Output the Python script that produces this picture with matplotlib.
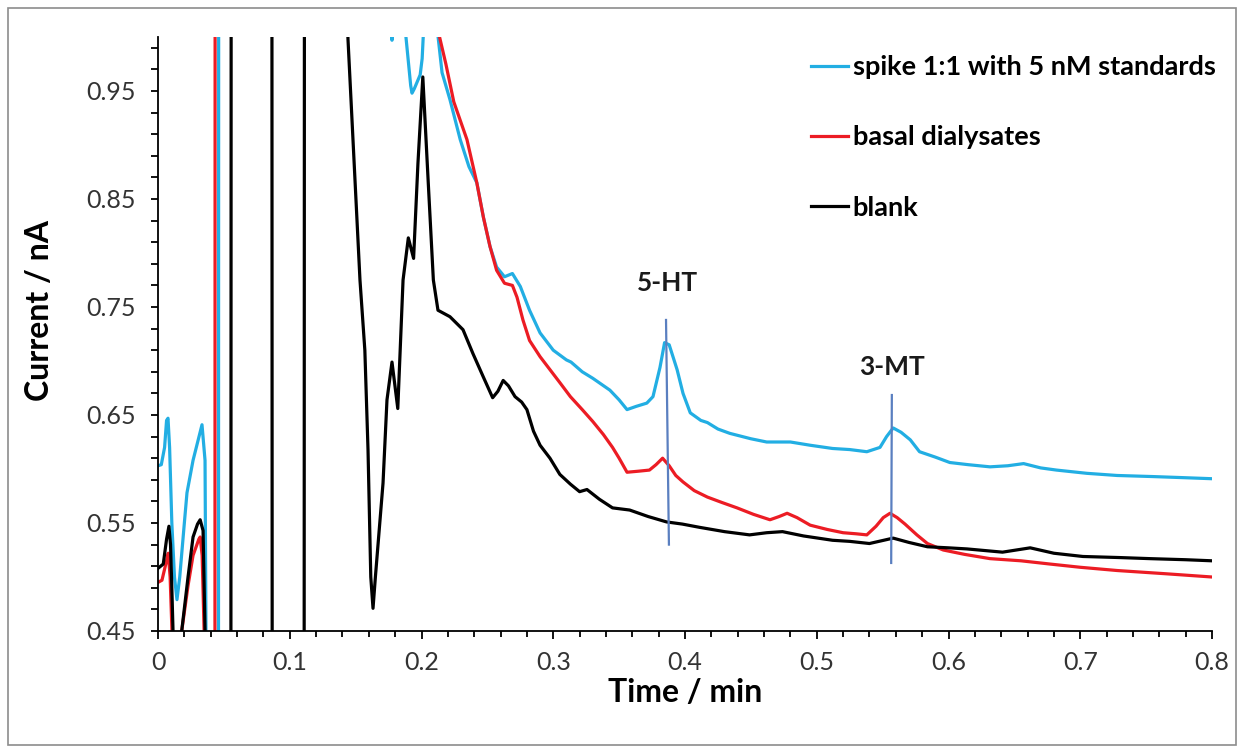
import numpy as np
import matplotlib
matplotlib.use("Agg")
import matplotlib.pyplot as plt
from matplotlib.ticker import FixedLocator, FuncFormatter
from matplotlib.patches import Rectangle

plt.rcParams['font.family'] = ['Lato', 'DejaVu Sans']

# values (time in min, current in nA);
# points beyond the y range stand for the off-scale excursions
spike_t = [0.0, 0.0025, 0.005, 0.0065, 0.0076, 0.0088, 0.0105, 0.0125, 0.0144, 0.0165,
           0.020, 0.022, 0.0266, 0.0334, 0.0357, 0.0364, 0.040, 0.0459, 0.0461, 0.12,
           0.177, 0.1776, 0.1782, 0.1882, 0.1918, 0.1928, 0.1945, 0.199, 0.2005, 0.2013,
           0.205, 0.2126, 0.2156, 0.2216, 0.2294, 0.236, 0.242, 0.247, 0.252, 0.257,
           0.263, 0.269, 0.275, 0.282, 0.290, 0.300, 0.310, 0.3135, 0.322, 0.330,
           0.343, 0.350, 0.356, 0.363, 0.371, 0.3757, 0.381, 0.3845, 0.388, 0.394,
           0.3985, 0.404, 0.412, 0.417, 0.425, 0.434, 0.450, 0.462, 0.480, 0.495,
           0.512, 0.525, 0.538, 0.548, 0.553, 0.558, 0.564, 0.571, 0.578, 0.590,
           0.601, 0.615, 0.6315, 0.645, 0.657, 0.670, 0.682, 0.705, 0.728, 0.755,
           0.778, 0.800]
spike_i = [0.603, 0.604, 0.620, 0.645, 0.647, 0.620, 0.550, 0.500, 0.479, 0.500,
           0.550, 0.578, 0.608, 0.641, 0.608, 0.450, 0.30, 0.35, 1.30, 1.50,
           1.05, 0.997, 1.05, 1.0, 0.955, 0.948, 0.952, 0.965, 0.980, 1.0,
           1.10, 1.0, 0.967, 0.942, 0.905, 0.880, 0.865, 0.833, 0.806, 0.787,
           0.778, 0.781, 0.769, 0.747, 0.726, 0.710, 0.701, 0.699, 0.690, 0.684,
           0.673, 0.664, 0.655, 0.658, 0.661, 0.667, 0.694, 0.717, 0.715, 0.692,
           0.670, 0.652, 0.645, 0.643, 0.637, 0.633, 0.628, 0.625, 0.625, 0.622,
           0.619, 0.618, 0.616, 0.620, 0.630, 0.638, 0.634, 0.627, 0.616, 0.611,
           0.606, 0.604, 0.602, 0.603, 0.605, 0.601, 0.599, 0.596, 0.594, 0.593,
           0.592, 0.591]

basal_t = [0.0, 0.003, 0.0065, 0.0078, 0.0092, 0.0106, 0.013, 0.016, 0.018, 0.0228,
           0.0266, 0.031, 0.032, 0.0335, 0.035, 0.038, 0.0432, 0.0434, 0.12, 0.2137,
           0.2185, 0.2245, 0.2345, 0.242, 0.247, 0.252, 0.257, 0.263, 0.269, 0.2725,
           0.277, 0.282, 0.290, 0.2975, 0.305, 0.313, 0.322, 0.330, 0.338, 0.345,
           0.350, 0.356, 0.365, 0.373, 0.378, 0.383, 0.388, 0.393, 0.3985, 0.407,
           0.417, 0.428, 0.4395, 0.452, 0.4645, 0.4715, 0.4775, 0.485, 0.495, 0.508,
           0.520, 0.530, 0.538, 0.545, 0.5505, 0.5556, 0.561, 0.567, 0.576, 0.584,
           0.596, 0.612, 0.6315, 0.655, 0.677, 0.700, 0.728, 0.765, 0.800]
basal_i = [0.495, 0.497, 0.515, 0.522, 0.500, 0.450, 0.40, 0.40, 0.450, 0.492,
           0.520, 0.535, 0.537, 0.520, 0.450, 0.30, 0.30, 1.30, 1.50, 1.0,
           0.975, 0.940, 0.905, 0.865, 0.833, 0.806, 0.784, 0.772, 0.770, 0.759,
           0.738, 0.719, 0.704, 0.692, 0.680, 0.667, 0.655, 0.644, 0.632, 0.620,
           0.610, 0.597, 0.598, 0.599, 0.604, 0.610, 0.603, 0.594, 0.588, 0.580,
           0.574, 0.569, 0.564, 0.558, 0.553, 0.556, 0.559, 0.555, 0.548, 0.544,
           0.541, 0.540, 0.539, 0.547, 0.555, 0.559, 0.555, 0.549, 0.539, 0.531,
           0.525, 0.521, 0.517, 0.515, 0.512, 0.509, 0.506, 0.503, 0.500]

blank_t = [0.0, 0.004, 0.0065, 0.0083, 0.0095, 0.0105, 0.0114, 0.0125, 0.016, 0.018,
           0.0228, 0.0266, 0.030, 0.032, 0.0342, 0.0357, 0.037, 0.050, 0.0553, 0.0556,
           0.070, 0.0864, 0.0867, 0.100, 0.1109, 0.1112, 0.130, 0.1442, 0.1533, 0.157,
           0.1594, 0.1615, 0.1632, 0.1650, 0.1708, 0.1738, 0.1776, 0.182, 0.186, 0.190,
           0.194, 0.1973, 0.201, 0.205, 0.209, 0.2125, 0.2216, 0.2315, 0.239, 0.247,
           0.254, 0.258, 0.262, 0.266, 0.271, 0.276, 0.280, 0.285, 0.290, 0.2975,
           0.305, 0.313, 0.320, 0.3256, 0.335, 0.345, 0.358, 0.372, 0.386, 0.398,
           0.411, 0.430, 0.449, 0.462, 0.474, 0.490, 0.512, 0.525, 0.540, 0.558,
           0.570, 0.584, 0.600, 0.614, 0.641, 0.662, 0.680, 0.702, 0.730, 0.753,
           0.780, 0.800]
blank_i = [0.508, 0.512, 0.535, 0.547, 0.530, 0.490, 0.450, 0.42, 0.40, 0.450,
           0.500, 0.537, 0.549, 0.553, 0.543, 0.450, 0.40, 0.20, 0.30, 1.30,
           1.50, 1.30, 0.30, 0.20, 0.30, 1.30, 1.60, 0.998, 0.775, 0.710,
           0.618, 0.500, 0.471, 0.500, 0.587, 0.664, 0.699, 0.656, 0.775, 0.814,
           0.795, 0.883, 0.963, 0.868, 0.775, 0.747, 0.741, 0.729, 0.707, 0.685,
           0.666, 0.672, 0.682, 0.677, 0.667, 0.662, 0.655, 0.635, 0.622, 0.610,
           0.595, 0.586, 0.579, 0.581, 0.572, 0.564, 0.562, 0.556, 0.551, 0.549,
           0.546, 0.542, 0.539, 0.541, 0.542, 0.538, 0.534, 0.533, 0.531, 0.536,
           0.532, 0.528, 0.527, 0.526, 0.523, 0.527, 0.522, 0.519, 0.518, 0.517,
           0.516, 0.515]

# peak markers
peak_names = ['5-HT', '3-MT']
peak_line_x = [(0.3856, 0.3878), (0.557, 0.5565)]
peak_line_y = [(0.738, 0.530), (0.6685, 0.513)]
peak_label_xy = [(0.387, 0.772), (0.557, 0.694)]

series_names = ['spike 1:1 with 5 nM standards', 'basal dialysates', 'blank']
series_colors = ['#22aee3', '#ec1c24', '#000000']

x_ticks = [0, 0.1, 0.2, 0.3, 0.4, 0.5, 0.6, 0.7, 0.8]
y_ticks = [0.45, 0.55, 0.65, 0.75, 0.85, 0.95]

fig = plt.figure(figsize=(12.44, 7.53), dpi=100)
fig.patches.append(Rectangle((8 / 1244, 8 / 753), 1228 / 1244, 737 / 753,
                             transform=fig.transFigure, fill=False,
                             edgecolor='#8c8c8c', linewidth=1.2))
ax = fig.add_axes([158 / 1244, 122 / 753, 1054 / 1244, 594 / 753])

for t, i, name, col in zip([spike_t, basal_t, blank_t], [spike_i, basal_i, blank_i],
                           series_names, series_colors):
    ax.plot(t, i, color=col, lw=2.3, label=name, solid_joinstyle='round')

for name, lx, ly, (tx, ty) in zip(peak_names, peak_line_x, peak_line_y, peak_label_xy):
    ax.plot(lx, ly, color='#5a7fc0', lw=1.6)
    ax.text(tx, ty, name, ha='center', va='center', fontsize=19, fontweight='bold',
            color='#1a1a1a')

ax.set_xlim(0, 0.8)
ax.set_ylim(0.45, 1.0)
for s in ['top', 'right']:
    ax.spines[s].set_visible(False)
for s in ['left', 'bottom']:
    ax.spines[s].set_linewidth(1.3)

ax.xaxis.set_major_locator(FixedLocator(x_ticks))
ax.xaxis.set_minor_locator(FixedLocator(np.arange(0, 0.801, 0.02)))
ax.yaxis.set_major_locator(FixedLocator(y_ticks))
ax.yaxis.set_minor_locator(FixedLocator(np.arange(0.45, 1.0, 0.02)))
ax.xaxis.set_major_formatter(FuncFormatter(lambda v, p: '0' if v == 0 else f'{v:g}'))
ax.yaxis.set_major_formatter(FuncFormatter(lambda v, p: f'{v:.2f}'))
ax.tick_params(which='both', direction='out', width=1.3, labelsize=18,
               labelcolor='#333333')
ax.tick_params(axis='x', which='major', length=5.5, pad=9)
ax.tick_params(axis='x', which='minor', length=4)
ax.tick_params(axis='y', which='both', length=5, pad=11)

ax.set_xlabel('Time / min', fontsize=23, fontweight='bold', labelpad=3)
ax.set_ylabel('Current / nA', fontsize=23, fontweight='bold')
ax.yaxis.set_label_coords(-0.099, 0.54)

leg = ax.legend(loc='upper left', bbox_to_anchor=(0.596, 1.01), frameon=False,
                fontsize=19.5, handlelength=1.4, handletextpad=0.15, labelspacing=1.7)
for txt in leg.get_texts():
    txt.set_fontweight('bold')

fig.savefig('out.png', dpi=100)
